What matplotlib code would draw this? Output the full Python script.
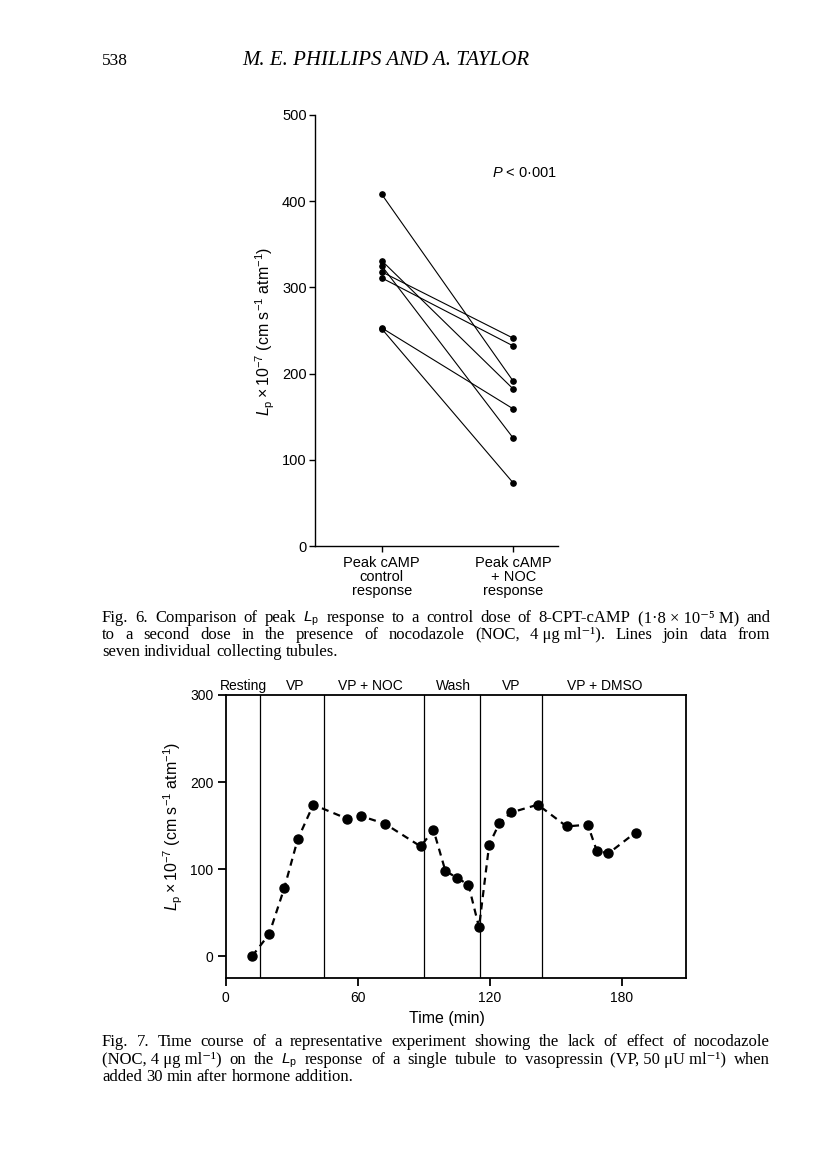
import numpy as np
import matplotlib
matplotlib.use('Agg')
import matplotlib.pyplot as plt

plt.rcParams['font.family'] = ['Liberation Sans', 'DejaVu Sans']
plt.rcParams['mathtext.fontset'] = 'custom'
plt.rcParams['mathtext.rm'] = 'Liberation Sans'
plt.rcParams['mathtext.it'] = 'Liberation Sans:italic'

## Fig. 6 data - peak Lp, each tubule control vs + NOC
groups = ['Peak cAMP\ncontrol\nresponse', 'Peak cAMP\n+ NOC\nresponse']
ctrl = [408, 331, 325, 318, 311, 253, 252]
noc = [191, 182, 125, 241, 232, 159, 73]
y6_ticks = [0, 100, 200, 300, 400, 500]

## Fig. 7 data - time course
t_min = [12, 19.7, 26.6, 32.7, 39.8, 55.0, 61.4, 72.4, 88.6, 94.4, 99.8, 105.0, 110.3, 115.1,
         119.7, 124.4, 129.7, 141.8, 154.9, 164.5, 168.6, 173.9, 186.2]
lp = [0, 25, 78, 134, 174, 158, 161, 152, 126, 145, 98, 90, 82, 33,
      128, 153, 165, 174, 149, 151, 121, 118, 142]
changes = [15.8, 44.8, 90.3, 115.6, 143.9]     # solution changes (min)
phases = ['Resting', 'VP', 'VP + NOC', 'Wash', 'VP', 'VP + DMSO']
phase_x = [8, 31.5, 65.6, 103.5, 129.7, 172.4]
x7_ticks = [0, 60, 120, 180]
y7_ticks = [0, 100, 200, 300]

W, H = 816, 1170
fig = plt.figure(figsize=(W/100, H/100), dpi=100)
fig.patch.set_facecolor('white')

def box(l, t, r, b):
    return [l/W, 1-b/H, (r-l)/W, (b-t)/H]

ylab = r'$L_\mathrm{p}\times10^{-7}$ (cm s$^{-1}$ atm$^{-1}$)'

# ---------------- Fig. 6
ax6 = fig.add_axes(box(315, 115, 557.7, 546))
for a, b in zip(ctrl, noc):
    ax6.plot([0, 1], [a, b], 'k-', lw=0.8, marker='o', ms=3.8)
ax6.set_xlim(-0.507, 1.337)
ax6.set_ylim(0, 500)
ax6.set_yticks(y6_ticks)
ax6.set_xticks([0, 1])
ax6.set_xticklabels(groups, fontsize=10.5, linespacing=1.0)
ax6.tick_params(axis='y', labelsize=10.5, length=4, width=1, pad=2)
ax6.tick_params(axis='x', length=4, width=1, pad=3)
for s in ['top', 'right']:
    ax6.spines[s].set_visible(False)
for s in ['left', 'bottom']:
    ax6.spines[s].set_linewidth(1.0)
ax6.text(1.33, 433, '$P$ < 0·001', ha='right', va='center', fontsize=10.5)
fig.text(265/W, 1-331/H, ylab, rotation=90, ha='center', va='center', fontsize=11.5)

# ---------------- Fig. 7
ax7 = fig.add_axes(box(225.7, 695, 685.7, 978.3))
for c in changes:
    ax7.axvline(c, color='k', lw=0.9)
ax7.plot(t_min, lp, color='k', lw=1.6, ls=(0, (3.2, 2.4)), marker='o', ms=6.5)
ax7.set_xlim(0, 209)
ax7.set_ylim(-25.5, 300)
ax7.set_xticks(x7_ticks)
ax7.set_yticks(y7_ticks)
ax7.tick_params(labelsize=10, length=6, width=1.3, pad=3)
for s in ax7.spines.values():
    s.set_linewidth(1.3)
for lab, x in zip(phases, phase_x):
    ax7.text(x, 310, lab, ha='center', va='center', fontsize=10)
ax7.set_xlabel('Time (min)', fontsize=11.5)
ax7.xaxis.set_label_coords(0.481, -0.115)
fig.text(173/W, 1-826/H, ylab, rotation=90, ha='center', va='center', fontsize=11.5)

# ---------------- page text (serif)
serif = ['Liberation Serif', 'DejaVu Serif']
fig.text(102/W, 1-65/H, '538', family=serif, fontsize=12.5, va='baseline')
fig.text(386/W, 1-65/H, 'M. E. PHILLIPS AND A. TAYLOR', family=serif, style='italic',
         fontsize=15, ha='center', va='baseline')

renderer = fig.canvas.get_renderer()

def justify(line, ybase, x0=102, x1=770, size=12, last=False):
    words = line.split(' ')
    txts = []
    for w in words:
        sz = size*0.92 if '$' in w else size
        txts.append(fig.text(0, 1-ybase/H, w, family=serif, fontsize=sz, va='baseline'))
    widths = [t.get_window_extent(renderer).width for t in txts]
    if last or len(words) < 2:
        gap = size*0.35
    else:
        gap = (x1 - x0 - sum(widths))/(len(words)-1)
    x = x0
    for t, w in zip(txts, widths):
        t.set_x(x/W)
        x += w + gap

cap6 = ['Fig. 6. Comparison of peak $L_\\mathrm{p}$ response to a control dose of 8-CPT-cAMP (1·8\u00a0×\u00a010⁻⁵\u00a0M) and',
        'to a second dose in the presence of nocodazole (NOC, 4\u00a0μg\u00a0ml⁻¹). Lines join data from',
        'seven individual collecting tubules.']
cap7 = ['Fig. 7. Time course of a representative experiment showing the lack of effect of nocodazole',
        '(NOC,\u00a04\u00a0μg\u00a0ml⁻¹) on the $L_\\mathrm{p}$ response of a single tubule to vasopressin (VP,\u00a050\u00a0μU\u00a0ml⁻¹) when',
        'added 30 min after hormone addition.']
for i, ln in enumerate(cap6):
    justify(ln, 622 + 17*i, last=(i == 2))
for i, ln in enumerate(cap7):
    justify(ln, 1046 + 17.5*i, last=(i == 2))

fig.savefig('out.png', dpi=100)
